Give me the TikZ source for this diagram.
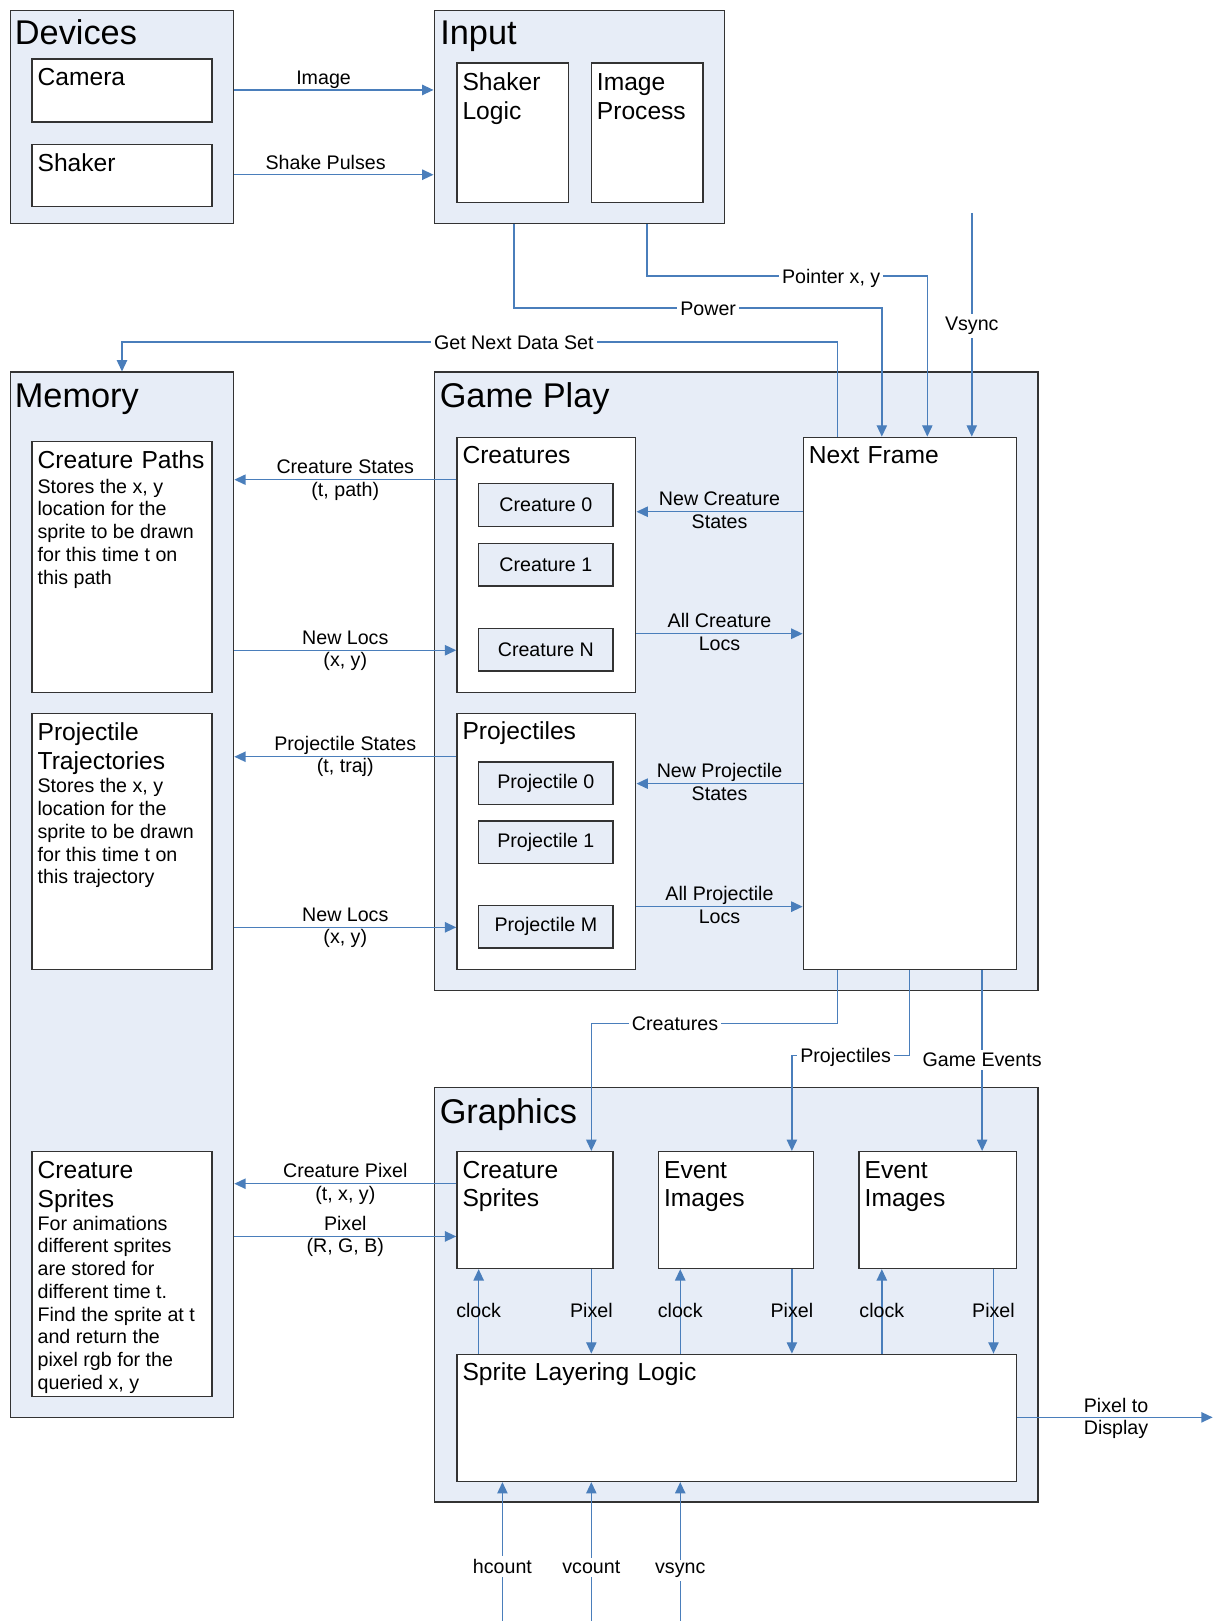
\documentclass[tikz,border=0pt]{standalone}
\usepackage{fontspec}
\setmainfont{Liberation Sans}
\usetikzlibrary{arrows.meta,fit}
\definecolor{lnblue}{HTML}{4A7EBB}
\definecolor{boxfill}{HTML}{E7EDF7}
\definecolor{boxline}{HTML}{333333}
\newcommand\titlef{\fontsize{16.6}{19}\selectfont}
\newcommand\hdrf{\fontsize{11.9}{14}\selectfont}
\newcommand\bodyf{\fontsize{9.5}{11}\selectfont}
\newcommand\lblf{\fontsize{9.5}{11.5}\selectfont}
\newcommand\lines[1]{\begin{tabular}[t]{@{}l@{}}#1\end{tabular}}
\begin{document}
\begin{tikzpicture}[x=0.5pt,y=-0.5pt,
  outerbox/.style={draw=boxline,fill=boxfill,line width=0.65pt,inner sep=0pt},
  innerbox/.style={draw=boxline,fill=white,line width=0.65pt,inner sep=0pt},
  smallbox/.style={draw=boxline,fill=boxfill,line width=0.65pt,inner sep=0pt,font=\lblf,
    minimum width=65pt,minimum height=20.5pt},
  conn/.style={draw=lnblue,line width=0.7pt,-{Triangle[length=5.5pt,width=5pt]}},
  ttl/.style={anchor=base west,inner sep=0pt,font=\titlef},
  hdr/.style={anchor=base west,inner sep=0pt,align=left,font=\hdrf,text width=250pt},
  bodyt/.style={anchor=base west,inner sep=0pt,font=\bodyf},
  lbl/.style={anchor=base,inner sep=0pt,font=\lblf},
  lblw/.style={anchor=base west,inner sep=0pt,font=\lblf},
  onlbl/.style={anchor=base,fill=white,inner sep=1.5pt,font=\lblf},
  freelbl/.style={anchor=base,inner sep=0pt,font=\lblf},
]
\useasboundingbox (0,0) rectangle (1173,1568);

% ---------- outer containers ----------
\node[outerbox,fit={(10,10) (226,216)}] (devices) {};
\node[outerbox,fit={(420,10) (701,216)}] (input) {};
\node[outerbox,fit={(10,360) (226,1371)}] (memory) {};
\node[outerbox,fit={(420,360) (1004,958)}] (gameplay) {};
\node[outerbox,fit={(420,1052) (1004,1453)}] (graphics) {};

\node[ttl] (devicesT) at (14,43.5) {Devices};
\node[ttl] (inputT) at (425.5,43.5) {Input};
\node[ttl] (memoryT) at (14,394.5) {Memory};
\node[ttl] (gameplayT) at (425,394.5) {Game Play};
\node[ttl] (graphicsT) at (425,1086.5) {Graphics};

% ---------- inner boxes ----------
\node[innerbox,fit={(31,57) (205,118)}] (camera) {};
\node[innerbox,fit={(31,140) (205,200)}] (shaker) {};
\node[innerbox,fit={(442,61) (550,196)}] (shakerlogic) {};
\node[innerbox,fit={(572,61) (680,196)}] (imageproc) {};
\node[innerbox,fit={(31,427) (205,670)}] (crpaths) {};
\node[innerbox,fit={(31,690) (205,938)}] (prtraj) {};
\node[innerbox,fit={(31,1114) (205,1351)}] (crsprites) {};
\node[innerbox,fit={(442,423) (615,670)}] (creatures) {};
\node[innerbox,fit={(442,690) (615,938)}] (projectiles) {};
\node[innerbox,fit={(777,423) (983,938)}] (nextframe) {};
\node[innerbox,fit={(442,1114) (593,1227)}] (gcsprites) {};
\node[innerbox,fit={(637,1114) (787,1227)}] (evimgA) {};
\node[innerbox,fit={(831,1114) (983,1227)}] (evimgB) {};
\node[innerbox,fit={(442,1310) (983,1433)}] (layering) {};

\node[smallbox] (crzero) at (528,488.5) {Creature 0};
\node[smallbox] (crone) at (528,546.5) {Creature 1};
\node[smallbox] (crN) at (528,628.5) {Creature N};
\node[smallbox] (przero) at (528,757.5) {Projectile 0};
\node[smallbox] (prone) at (528,814.5) {Projectile 1};
\node[smallbox] (prM) at (528,896.5) {Projectile M};

% ---------- box texts ----------
\node[hdr] (cameraT) at (36,82.5) {Camera};
\node[hdr] (shakerT) at (36,165.5) {Shaker};
\node[hdr] (shakerlogicT) at (447,87.5) {Shaker\\Logic};
\node[hdr] (imageprocT) at (577,87.5) {Image\\Process};
\node[hdr] (crpathsT) at (36,453) {Creature Paths};
\node[bodyt] (crpathsB) at (36,477) {\lines{Stores the x, y\\location for the\\sprite to be drawn\\for this time t on\\this path}};
\node[hdr] (prtrajT) at (36,716) {Projectile\\Trajectories};
\node[bodyt] (prtrajB) at (36,767) {\lines{Stores the x, y\\location for the\\sprite to be drawn\\for this time t on\\this trajectory}};
\node[hdr] (crspritesT) at (36,1140) {Creature\\Sprites};
\node[bodyt] (crspritesB) at (36,1190) {\lines{For animations\\different sprites\\are stored for\\different time t.\\Find the sprite at t\\and return the\\pixel rgb for the\\queried x, y}};
\node[hdr] (creaturesT) at (447,448.5) {Creatures};
\node[hdr] (projectilesT) at (447,715.5) {Projectiles};
\node[hdr] (nextframeT) at (782,448.5) {Next Frame};
\node[hdr] (gcspritesT) at (447,1139.5) {Creature\\Sprites};
\node[hdr] (evimgAT) at (642,1139.5) {Event\\Images};
\node[hdr] (evimgBT) at (836,1139.5) {Event\\Images};
\node[hdr] (layeringT) at (447,1335.5) {Sprite Layering Logic};

% ---------- free ends ----------
\coordinate (vsyncin) at (940,206);
\coordinate (hcin) at (486,1568);
\coordinate (vcin) at (572,1568);
\coordinate (vsin) at (658,1568);
\coordinate (disp) at (1173,1371);

% ---------- connectors ----------
\draw[conn] (devices.east |- 0,87) -- (input.west |- 0,87);
\node[lbl] (lImage) at (313,82) {Image};
\draw[conn] (devices.east |- 0,169) -- (input.west |- 0,169);
\node[lbl] (lShake) at (315,164) {Shake Pulses};

\draw[conn] (input.south -| 497,0) |- (853,298) -- (nextframe.north -| 853,0);
\node[onlbl] (lPower) at (685,305) {Power};
\draw[conn] (input.south -| 626,0) |- (897,267) -- (nextframe.north -| 897,0);
\node[onlbl] (lPointer) at (804,274) {Pointer x, y};
\draw[conn] (vsyncin) -- (nextframe.north -| vsyncin);
\node[onlbl] (lVsync) at (940,320) {Vsync};
\draw[conn] (nextframe.north -| 810,0) |- (118,331) -- (memory.north -| 118,0);
\node[onlbl] (lGetNext) at (497,338) {Get Next Data Set};

\draw[conn] (creatures.west |- 0,464) -- (memory.east |- 0,464);
\node[lbl] (lCS1) at (334,458) {Creature States};
\node[lbl] (lCS2) at (334,480) {(t, path)};
\draw[conn] (memory.east |- 0,629) -- (creatures.west |- 0,629);
\node[lbl] (lNL1) at (334,623) {New Locs};
\node[lbl] (lNL2) at (334,645) {(x, y)};
\draw[conn] (projectiles.west |- 0,732) -- (memory.east |- 0,732);
\node[lbl] (lPS1) at (334,726) {Projectile States};
\node[lbl] (lPS2) at (334,747) {(t, traj)};
\draw[conn] (memory.east |- 0,897) -- (projectiles.west |- 0,897);
\node[lbl] (lNLp1) at (334,891) {New Locs};
\node[lbl] (lNLp2) at (334,913) {(x, y)};

\draw[conn] (nextframe.west |- 0,495) -- (creatures.east |- 0,495);
\node[lbl] (lNCS1) at (696,489) {New Creature};
\node[lbl] (lNCS2) at (696,511) {States};
\draw[conn] (creatures.east |- 0,613) -- (nextframe.west |- 0,613);
\node[lbl] (lACL1) at (696,607) {All Creature};
\node[lbl] (lACL2) at (696,629) {Locs};
\draw[conn] (nextframe.west |- 0,758) -- (projectiles.east |- 0,758);
\node[lbl] (lNPS1) at (696,752) {New Projectile};
\node[lbl] (lNPS2) at (696,774) {States};
\draw[conn] (projectiles.east |- 0,877) -- (nextframe.west |- 0,877);
\node[lbl] (lAPL1) at (696,871) {All Projectile};
\node[lbl] (lAPL2) at (696,893) {Locs};

\draw[conn] (nextframe.south -| 810,0) |- (572,990) -- (gcsprites.north -| 572,0);
\node[onlbl] (lCreatures) at (653,997) {Creatures};
\draw[conn] (nextframe.south -| 880,0) |- (766,1021) -- (evimgA.north -| 766,0);
\node[onlbl] (lProjectiles) at (818,1028) {Projectiles};
\draw[conn] (nextframe.south -| 950,0) -- (evimgB.north -| 950,0);
\node[onlbl] (lGameEv) at (950,1032) {Game Events};

\draw[conn] (gcsprites.west |- 0,1145) -- (memory.east |- 0,1145);
\node[lbl] (lCP1) at (334,1139) {Creature Pixel};
\node[lbl] (lCP2) at (334,1161) {(t, x, y)};
\draw[conn] (memory.east |- 0,1196) -- (gcsprites.west |- 0,1196);
\node[lbl] (lPx1) at (334,1190) {Pixel};
\node[lbl] (lPx2) at (334,1212) {(R, G, B)};

\draw[conn] (layering.north -| 463,0) -- (gcsprites.south -| 463,0);
\draw[conn] (gcsprites.south -| 572,0) -- (layering.north -| 572,0);
\draw[conn] (layering.north -| 658,0) -- (evimgA.south -| 658,0);
\draw[conn] (evimgA.south -| 766,0) -- (layering.north -| 766,0);
\draw[conn] (layering.north -| 853,0) -- (evimgB.south -| 853,0);
\draw[conn] (evimgB.south -| 961,0) -- (layering.north -| 961,0);
\node[freelbl] (lclkA) at (463,1274) {clock};
\node[freelbl] (lpixA) at (572,1274) {Pixel};
\node[freelbl] (lclkB) at (658,1274) {clock};
\node[freelbl] (lpixB) at (766,1274) {Pixel};
\node[freelbl] (lclkC) at (853,1274) {clock};
\node[freelbl] (lpixC) at (961,1274) {Pixel};

\draw[conn] (hcin) -- (layering.south -| hcin);
\draw[conn] (vcin) -- (layering.south -| vcin);
\draw[conn] (vsin) -- (layering.south -| vsin);
\node[onlbl] (lhc) at (486,1522) {hcount};
\node[onlbl] (lvc) at (572,1522) {vcount};
\node[onlbl] (lvs) at (658,1522) {vsync};

\draw[conn] (layering.east |- disp) -- (disp);
\node[lblw] (lPTD1) at (1048,1366) {Pixel to};
\node[lblw] (lPTD2) at (1048,1388) {Display};
\end{tikzpicture}
\end{document}
